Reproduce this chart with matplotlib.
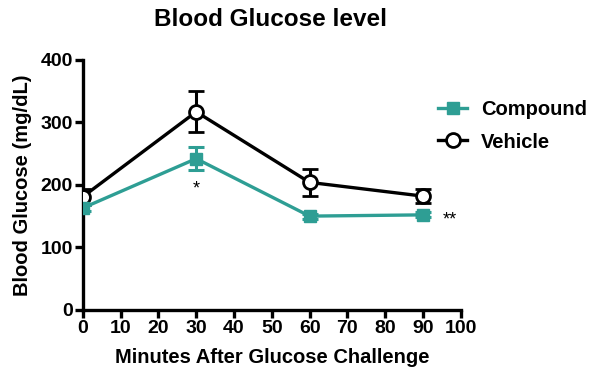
import numpy as np
import matplotlib
matplotlib.use("Agg")
import matplotlib.pyplot as plt
from matplotlib.lines import Line2D

plt.rcParams['font.family'] = ['Liberation Sans', 'DejaVu Sans']
plt.rcParams['font.weight'] = 'bold'

# data
minutes = [0, 30, 60, 90]
compound = [163, 242, 150, 152]
compound_err = [5, 18, 4, 4]
vehicle = [181, 317, 204, 182]
vehicle_err = [13, 33, 21, 11]

teal = '#2e9e94'

fig = plt.figure(figsize=(6, 3.82), dpi=100)
ax = fig.add_axes([0.138, 0.189, 0.63, 0.654])

ax.errorbar(minutes, vehicle, yerr=vehicle_err, color='black', lw=2.4,
            marker='o', ms=10, mfc='white', mec='black', mew=2,
            capsize=6, capthick=2.2, elinewidth=2.2, zorder=3)
ax.errorbar(minutes, compound, yerr=compound_err, color=teal, lw=2.4,
            marker='s', ms=9, mfc=teal, mec=teal,
            capsize=6, capthick=2.2, elinewidth=2.2, zorder=4)

# significance marks
ax.text(30, 193, '*', ha='center', va='center', fontsize=13, fontweight='normal')
ax.text(97, 144, '**', ha='center', va='center', fontsize=13, fontweight='normal')

ax.set_xlim(0, 100)
ax.set_ylim(0, 400)
ax.set_xticks(range(0, 101, 10))
ax.set_yticks(range(0, 401, 100))
ax.spines['top'].set_visible(False)
ax.spines['right'].set_visible(False)
ax.spines['left'].set_linewidth(2.4)
ax.spines['bottom'].set_linewidth(2.4)
ax.tick_params(width=2.4, length=6, labelsize=14, pad=1)
for lab in ax.get_xticklabels() + ax.get_yticklabels():
    lab.set_fontweight('bold')
ax.set_xlabel('Minutes After Glucose Challenge', fontsize=14.5, fontweight='bold', labelpad=8)
ax.set_ylabel('Blood Glucose (mg/dL)', fontsize=14.5, fontweight='bold', labelpad=6)
fig.text(271 / 600, 1 - 20 / 382, 'Blood Glucose level', fontsize=17.5,
         fontweight='bold', ha='center', va='center')

handles = [
    Line2D([], [], color=teal, lw=2.4, marker='s', ms=9, mfc=teal, mec=teal),
    Line2D([], [], color='black', lw=2.4, marker='o', ms=10, mfc='white', mec='black', mew=2),
]
leg = fig.legend(handles, ['Compound', 'Vehicle'], loc='center left',
                 bbox_to_anchor=(438 / 600, 1 - 126 / 382),
                 frameon=False, fontsize=14.5, handlelength=1.45, handletextpad=0.7,
                 labelspacing=0.65, borderaxespad=0, borderpad=0)
for t in leg.get_texts():
    t.set_fontweight('bold')
ax.patch.set_alpha(0)

fig.savefig('out.png', dpi=100)
